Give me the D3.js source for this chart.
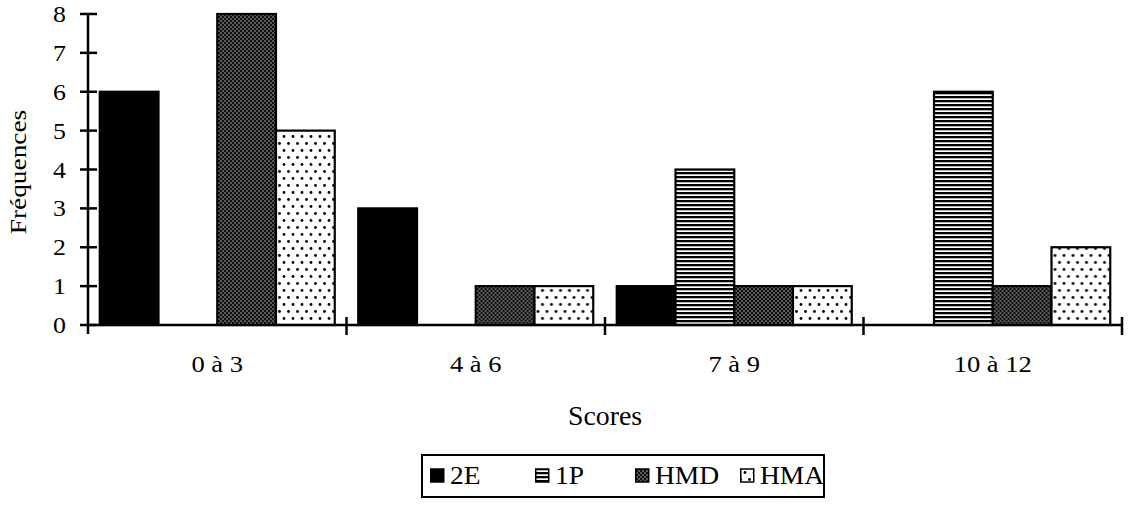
<!DOCTYPE html>
<html>
<head>
<meta charset="utf-8">
<script src="https://cdn.jsdelivr.net/npm/d3@7/dist/d3.min.js"></script>
<style>
  html, body { margin: 0; padding: 0; background: #fff; }
  svg { display: block; }
  text { font-family: "Liberation Serif", "DejaVu Serif", serif; fill: #000; }
</style>
</head>
<body>
<svg id="chart" width="1130" height="505"></svg>
<script>
const categories = ["0 à 3", "4 à 6", "7 à 9", "10 à 12"];
const seriesNames = ["2E", "1P", "HMD", "HMA"];
const values2E  = [6, 3, 1, 0];
const values1P  = [0, 0, 4, 6];
const valuesHMD = [8, 1, 1, 1];
const valuesHMA = [5, 1, 1, 2];
const yTicks = [0, 1, 2, 3, 4, 5, 6, 7, 8];
const yTitle = "Fréquences";
const xTitle = "Scores";

(function () {
const seriesValues = { "2E": values2E, "1P": values1P, "HMD": valuesHMD, "HMA": valuesHMA };

const svg = d3.select("#chart");
const defs = svg.append("defs");

// Patterns
const pStripe = defs.append("pattern").attr("id", "p1P").attr("patternUnits", "userSpaceOnUse")
  .attr("width", 4).attr("height", 4);
pStripe.append("rect").attr("width", 4).attr("height", 4).attr("fill", "#fff");
pStripe.append("rect").attr("y", 0).attr("width", 4).attr("height", 2.3).attr("fill", "#000");

const pDense = defs.append("pattern").attr("id", "pHMD").attr("patternUnits", "userSpaceOnUse")
  .attr("width", 4).attr("height", 4);
pDense.append("rect").attr("width", 4).attr("height", 4).attr("fill", "#111");
pDense.append("rect").attr("x", 0.5).attr("y", 0.5).attr("width", 1.1).attr("height", 1.1).attr("fill", "#fff");
pDense.append("rect").attr("x", 2.5).attr("y", 2.5).attr("width", 1.1).attr("height", 1.1).attr("fill", "#fff");

const pDots = defs.append("pattern").attr("id", "pHMA").attr("patternUnits", "userSpaceOnUse")
  .attr("width", 9).attr("height", 14);
pDots.append("rect").attr("width", 9).attr("height", 14).attr("fill", "#fff");
pDots.append("circle").attr("cx", 2.5).attr("cy", 3.5).attr("r", 1.4).attr("fill", "#000");
pDots.append("circle").attr("cx", 7).attr("cy", 10.5).attr("r", 1.4).attr("fill", "#000");

const fills = { "2E": "#000", "1P": "url(#p1P)", "HMD": "url(#pHMD)", "HMA": "url(#pHMA)" };

const mLeft = 88, mRight = 1122, mTop = 14, mBottom = 325;

const x0 = d3.scaleBand().domain(categories).range([mLeft, mRight]).paddingInner(0).paddingOuter(0);
const x1 = d3.scaleBand().domain(seriesNames).range([0, x0.bandwidth()]).paddingInner(0).paddingOuter(0.2);
const y = d3.scaleLinear().domain([0, 8]).range([mBottom, mTop]);

function stext(sel, x, yy, size, stretch, anchor, str) {
  return sel.append("text")
    .attr("transform", `translate(${x},${yy}) scale(${stretch},1)`)
    .attr("text-anchor", anchor).attr("font-size", size).text(str);
}

// Bars
const groups = svg.append("g").selectAll("g").data(categories).join("g")
  .attr("transform", d => `translate(${x0(d)},0)`);

groups.selectAll("rect")
  .data((c, i) => seriesNames.map(s => ({ s, v: seriesValues[s][i] })).filter(d => d.v > 0))
  .join("rect")
  .attr("x", d => x1(d.s))
  .attr("y", d => y(d.v))
  .attr("width", x1.bandwidth())
  .attr("height", d => y(0) - y(d.v))
  .attr("fill", d => fills[d.s])
  .attr("stroke", "#000")
  .attr("stroke-width", 2.2);

// Y axis
const yAxis = svg.append("g");
yAxis.append("line").attr("x1", mLeft).attr("x2", mLeft).attr("y1", y(8)).attr("y2", mBottom + 9)
  .attr("stroke", "#000").attr("stroke-width", 2.5);
yAxis.selectAll("line.tick").data(yTicks).join("line").attr("class", "tick")
  .attr("x1", mLeft - 8).attr("x2", mLeft + 9).attr("y1", d => y(d)).attr("y2", d => y(d))
  .attr("stroke", "#000").attr("stroke-width", 2.5);
yTicks.forEach(t => {
  stext(yAxis, 66, y(t) + 8, 23.5, 1.1, "end", String(t));
});

// X axis
const xAxis = svg.append("g");
xAxis.append("line").attr("x1", mLeft).attr("x2", mRight).attr("y1", mBottom).attr("y2", mBottom)
  .attr("stroke", "#000").attr("stroke-width", 2.5);
const boundaries = categories.map(c => x0(c) + x0.bandwidth());
xAxis.selectAll("line.tick").data(boundaries).join("line").attr("class", "tick")
  .attr("x1", d => d).attr("x2", d => d).attr("y1", mBottom - 8).attr("y2", mBottom + 10)
  .attr("stroke", "#000").attr("stroke-width", 2.5);
categories.forEach(c => {
  stext(xAxis, x0(c) + x0.bandwidth() / 2, 372, 22.5, 1.18, "middle", c);
});

// Titles
svg.append("text").attr("transform", "translate(26,172) rotate(-90) scale(1.14,1)")
  .attr("text-anchor", "middle").attr("font-size", 24).text(yTitle);
stext(svg, (mLeft + mRight) / 2, 425, 26.5, 1.05, "middle", xTitle);

// Legend
const legend = svg.append("g");
legend.append("rect").attr("x", 422).attr("y", 455).attr("width", 402).attr("height", 42)
  .attr("fill", "#fff").attr("stroke", "#000").attr("stroke-width", 2);
const legendX = [430, 535, 635, 740];
seriesNames.forEach((s, i) => {
  legend.append("rect").attr("x", legendX[i] + 0.75).attr("y", 469).attr("width", 13).attr("height", 13)
    .attr("fill", fills[s]).attr("stroke", "#000").attr("stroke-width", 1.5);
  stext(legend, legendX[i] + 20, 484, 25, 1.1, "start", s);
});
})();
</script>
</body>
</html>
